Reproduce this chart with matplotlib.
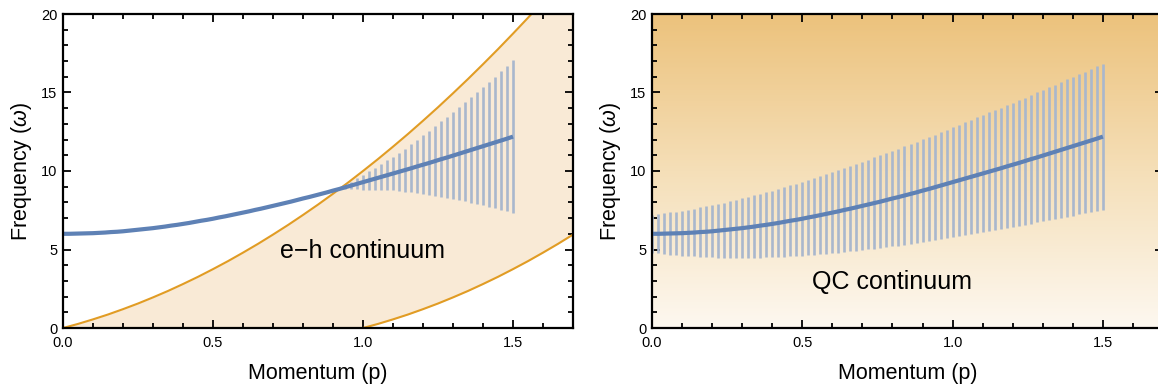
import numpy as np
import matplotlib
matplotlib.use("Agg")
import matplotlib.pyplot as plt
from matplotlib.colors import LinearSegmentedColormap
from matplotlib.ticker import MultipleLocator

plt.rcParams['font.family'] = ['Liberation Sans', 'DejaVu Sans']
plt.rcParams['mathtext.fontset'] = 'custom'
plt.rcParams['mathtext.it'] = 'Liberation Sans:italic'
plt.rcParams['mathtext.rm'] = 'Liberation Sans'

# ---------------- data ----------------
# momentum grid of the plasmon points (every 0.02)
p_pts = np.round(np.arange(0, 76) * 0.02, 2)
omega_pts = [6.00, 6.00, 6.01, 6.02, 6.03, 6.04, 6.06, 6.08, 6.11, 6.13,
             6.16, 6.20, 6.24, 6.28, 6.32, 6.36, 6.41, 6.46, 6.52, 6.57,
             6.63, 6.69, 6.76, 6.83, 6.89, 6.96, 7.04, 7.11, 7.19, 7.27,
             7.35, 7.43, 7.52, 7.60, 7.69, 7.78, 7.87, 7.96, 8.05, 8.15,
             8.25, 8.34, 8.44, 8.54, 8.64, 8.75, 8.85, 8.96, 9.07, 9.18,
             9.29, 9.40, 9.51, 9.62, 9.73, 9.84, 9.95, 10.06, 10.17, 10.29,
             10.40, 10.51, 10.63, 10.75, 10.86, 10.98, 11.10, 11.22, 11.34, 11.46,
             11.58, 11.70, 11.82, 11.94, 12.06, 12.19]

# left panel: error bar half-widths, from p = 0.92 onward
p_err_left = np.round(0.92 + np.arange(0, 30) * 0.02, 2)
err_left = [0.00, 0.12, 0.23, 0.35, 0.47, 0.59, 0.71, 0.82, 0.94, 1.06,
            1.21, 1.37, 1.53, 1.70, 1.88, 2.06, 2.24, 2.42, 2.60, 2.78,
            2.96, 3.15, 3.35, 3.55, 3.76, 3.97, 4.18, 4.40, 4.63, 4.86]

# right panel: error bar half-widths at every point
err_right = [1.20, 1.25, 1.29, 1.34, 1.38, 1.43, 1.48, 1.52, 1.57, 1.61,
             1.66, 1.71, 1.75, 1.80, 1.84, 1.89, 1.94, 1.98, 2.03, 2.07,
             2.12, 2.17, 2.21, 2.26, 2.30, 2.35, 2.40, 2.44, 2.49, 2.53,
             2.58, 2.63, 2.67, 2.72, 2.76, 2.81, 2.86, 2.90, 2.95, 2.99,
             3.04, 3.09, 3.13, 3.18, 3.22, 3.27, 3.32, 3.36, 3.41, 3.45,
             3.50, 3.55, 3.59, 3.64, 3.68, 3.73, 3.78, 3.82, 3.87, 3.91,
             3.96, 4.01, 4.05, 4.10, 4.14, 4.19, 4.24, 4.28, 4.33, 4.37,
             4.42, 4.47, 4.51, 4.56, 4.60, 4.65]

# e-h continuum boundaries
p_eh_upper = np.round(np.arange(0, 35) * 0.05, 2)
omega_eh_upper = [0.00, 0.26, 0.55, 0.86, 1.20, 1.56, 1.95, 2.36, 2.80, 3.26,
                  3.75, 4.26, 4.80, 5.36, 5.95, 6.56, 7.20, 7.86, 8.55, 9.26,
                  10.00, 10.76, 11.55, 12.36, 13.20, 14.06, 14.95, 15.86, 16.80, 17.76,
                  18.75, 19.76, 20.80, 21.86, 22.95]
omega_eh_lower = [0.00, 0.00, 0.00, 0.00, 0.00, 0.00, 0.00, 0.00, 0.00, 0.00,
                  0.00, 0.00, 0.00, 0.00, 0.00, 0.00, 0.00, 0.00, 0.00, 0.00,
                  0.00, 0.26, 0.55, 0.86, 1.20, 1.56, 1.95, 2.36, 2.80, 3.26,
                  3.75, 4.26, 4.80, 5.36, 5.95]

labels = ["e\u2212h continuum", "QC continuum"]

# ---------------- styles ----------------
BLUE = '#5E81B5'
ERRC = '#A9B7CD'
ORANGE = '#E19C24'
FILL = '#F9EAD6'

fig = plt.figure(figsize=(11.58, 3.90), dpi=100)
axL = fig.add_axes([63/1158, 62/390, 510/1158, 314/390])
axR = fig.add_axes([652/1158, 62/390, 511/1158, 314/390])


def style(ax):
    ax.set_xlim(0, 1.7)
    ax.set_ylim(0, 20)
    ax.xaxis.set_major_locator(MultipleLocator(0.5))
    ax.xaxis.set_minor_locator(MultipleLocator(0.1))
    ax.yaxis.set_major_locator(MultipleLocator(5))
    ax.yaxis.set_minor_locator(MultipleLocator(1))
    ax.xaxis.set_major_formatter(matplotlib.ticker.FormatStrFormatter('%.1f'))
    ax.tick_params(which='both', direction='in', top=True, right=True,
                   width=1.3, labelsize=10.5)
    ax.tick_params(axis='x', pad=6)
    ax.tick_params(axis='y', pad=4)
    ax.tick_params(which='major', length=5.5)
    ax.tick_params(which='minor', length=3.5)
    for s in ax.spines.values():
        s.set_linewidth(1.6)
        s.set_zorder(10)
    ax.set_xlabel('Momentum (p)', fontsize=15.5, labelpad=9)
    ax.set_ylabel('Frequency ($\\mathit{\\omega}$)', fontsize=15.5, labelpad=5)


# ----- left panel -----
axL.fill_between(p_eh_upper, omega_eh_lower, omega_eh_upper, color=FILL, lw=0, zorder=1)
axL.plot(p_eh_upper, omega_eh_upper, color=ORANGE, lw=1.5, zorder=2)
axL.plot(p_eh_upper[20:], omega_eh_lower[20:], color=ORANGE, lw=1.5, zorder=2)
omega_left_err = omega_pts[46:]
axL.errorbar(p_err_left, omega_left_err, yerr=err_left, fmt='none',
             ecolor=ERRC, elinewidth=1.9, capsize=0, zorder=3)
axL.plot(p_pts, omega_pts, color=BLUE, lw=3.0, solid_capstyle='butt', zorder=4)
axL.text(1.0, 4.9, labels[0], fontsize=18, ha='center', va='center', zorder=5)
style(axL)

# ----- right panel -----
grad = LinearSegmentedColormap.from_list('qc', ['#FDF8F0', '#F5DFB8', '#ECC27C'])
axR.imshow(np.linspace(0, 1, 256).reshape(-1, 1), cmap=grad, origin='lower',
           extent=[0, 1.7, 0, 20], aspect='auto', zorder=0)
axR.errorbar(p_pts, omega_pts, yerr=err_right, fmt='none',
             ecolor=ERRC, elinewidth=1.9, capsize=0, zorder=3)
axR.plot(p_pts, omega_pts, color=BLUE, lw=3.0, solid_capstyle='butt', zorder=4)
axR.text(0.8, 2.9, labels[1], fontsize=18, ha='center', va='center', zorder=5)
style(axR)

fig.savefig('out.png', dpi=100)
